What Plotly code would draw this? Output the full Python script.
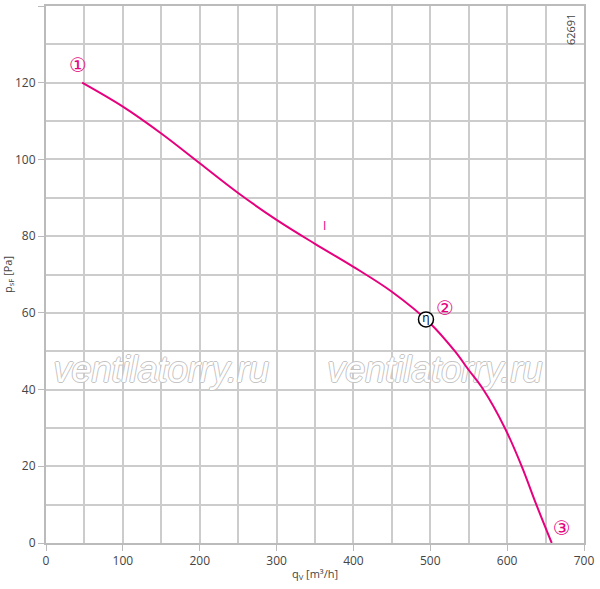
import plotly.graph_objects as go

# fan characteristic curve
flow = [47, 100, 150, 200, 250, 300, 350, 400, 450, 500, 532, 550, 569, 597, 619, 638, 658]
pressure = [120, 113.75, 106.75, 99.0, 91.25, 84.25, 78.0, 72.0, 65.5, 57.25, 50, 45.1, 40, 30, 20, 10, 0]

# point markers (1), (2), (3)
marker_labels = ['①', '②', '③']
marker_x = [41.6, 519, 671]
marker_y = [124, 60.7, 3.4]

eta_x = 494.4
eta_y = 58.3

x_ticks = [0, 100, 200, 300, 400, 500, 600, 700]
y_ticks = [0, 20, 40, 60, 80, 100, 120, 140]

curve_color = '#e6007e'
grid_color = '#cccccc'
font_family = 'Open Sans, Noto Sans, sans-serif'

fig = go.Figure()

# watermark text goes first so the curve sits on top of it
outline = '1px 0 0 #c4c4c4, -1px 0 0 #c4c4c4, 0 1px 0 #c4c4c4, 0 -1px 0 #c4c4c4'
fig.add_trace(go.Scatter(x=[150, 506], y=[44.3, 44.3], mode='text',
                         text=['ventilatorry.ru', 'ventilatorry.ru'],
                         textfont=dict(color='#ffffff', size=36, family='Liberation Sans, Arial, sans-serif',
                                       style='italic', shadow=outline),
                         hoverinfo='skip', showlegend=False))

fig.add_trace(go.Scatter(x=flow, y=pressure, mode='lines',
                         line=dict(color=curve_color, width=2, shape='spline', smoothing=1.0),
                         hoverinfo='skip', showlegend=False))

fig.add_trace(go.Scatter(x=marker_x, y=marker_y, mode='text', text=marker_labels,
                         textfont=dict(color=curve_color, size=20, family='DejaVu Sans'),
                         hoverinfo='skip', showlegend=False))

# efficiency point
fig.add_trace(go.Scatter(x=[eta_x], y=[eta_y], mode='markers+text', text=['η'],
                         marker=dict(size=15, color='white', line=dict(color='black', width=1.5)),
                         textfont=dict(color='black', size=12, family=font_family),
                         textposition='middle center',
                         hoverinfo='skip', showlegend=False))

annotations = [
    dict(x=363, y=82.9, text='I', showarrow=False,
         font=dict(color=curve_color, size=12, family=font_family)),
    dict(x=1.0, y=1.0, xref='paper', yref='paper', xanchor='right', yanchor='top',
         xshift=-4, yshift=-6, text='62691', textangle=-90, showarrow=False,
         font=dict(color='#444444', size=11, family=font_family)),
]

fig.update_layout(
    width=600, height=589,
    margin=dict(l=46, r=16, t=6, b=46),
    paper_bgcolor='white', plot_bgcolor='white',
    font=dict(family=font_family, size=12, color='#444444'),
    annotations=annotations,
    xaxis=dict(range=[0, 700], tickvals=x_ticks, showgrid=True, gridcolor=grid_color, gridwidth=1.5,
               minor=dict(dtick=50, showgrid=True, gridcolor=grid_color, gridwidth=1.5),
               showline=True, linecolor='#bbbbbb', linewidth=2, mirror=True,
               ticks='outside', ticklen=6, tickcolor='#bbbbbb', zeroline=False, automargin=False,
               title=dict(text='q<sub>V</sub> [m³/h]', standoff=2, font=dict(size=11))),
    yaxis=dict(range=[0, 140], tickvals=y_ticks, showgrid=True, gridcolor=grid_color, gridwidth=1.5,
               minor=dict(dtick=10, showgrid=True, gridcolor=grid_color, gridwidth=1.5),
               showline=True, linecolor='#bbbbbb', linewidth=2, mirror=True,
               ticks='outside', ticklen=6, tickcolor='#bbbbbb', zeroline=False, automargin=False,
               title=dict(text='p<sub>sF</sub> [Pa]', standoff=4, font=dict(size=11))),
)

fig.write_html('out.html', config={'displayModeBar': False},
               post_script="document.body.style.margin='0';")
